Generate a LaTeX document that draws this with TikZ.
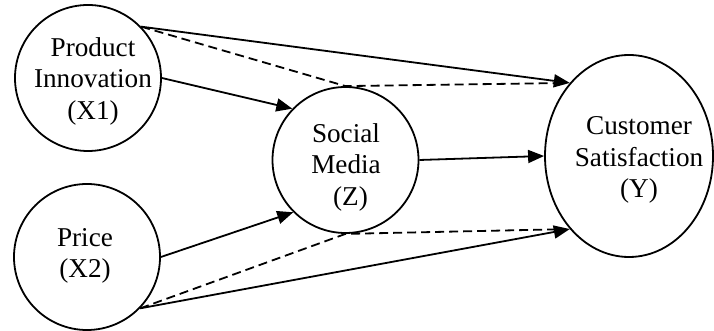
\documentclass[tikz,border=0pt]{standalone}
\usepackage{fontspec}
\setmainfont{Liberation Serif}
\usetikzlibrary{arrows.meta,shapes.geometric}

\tikzset{
  varshape/.style={draw=black, line width=1.8pt, inner sep=0pt, fill=none},
  varcircle/.style={varshape, circle, minimum size=146pt},
  varellipse/.style={varshape, ellipse, minimum width=168pt, minimum height=202pt},
  vartext/.style={align=center, inner sep=0pt, font=\fontsize{27.2}{31.5}\selectfont},
  effect/.style={line width=1.8pt, -{Triangle[length=16pt, width=13pt]}},
  indirect/.style={line width=1.8pt, dash pattern=on 9pt off 5pt, shorten >=7pt},
}

\begin{document}
\begin{tikzpicture}[x=1pt, y=1pt]
\useasboundingbox (0,0) rectangle (714,331);

% constructs
\node[varcircle]  (X1) at (88,253)    {};
\node[varcircle]  (X2) at (87,74)     {};
\node[varcircle]  (Z)  at (345.5,171) {};
\node[varellipse] (Y)  at (629,175)   {};

\node[vartext] (X1t) at (93,250)  {Product\\Innovation\\(X1)};
\node[vartext] (X2t) at (85,75)   {Price\\(X2)};
\node[vartext] (Zt)  at (346,164) {Social\\Media\\\hspace*{9pt}(Z)};
\node[vartext] (Yt)  at (639,171) {Customer\\Satisfaction\\(Y)};

% direct effects
\draw[effect] (X1.44)  -- (Y.129);
\draw[effect] (X1.east) -- (Z.136);
\draw[effect] (X2.east) -- (Z.225);
\draw[effect] (X2.-44) -- (Y.231);
\draw[effect] (Z.east) -- (Y.west);

% mediated paths through social media
\draw[indirect] (X1.44) -- (Z.north) -- (Y.129);
\draw[indirect] (X2.-44) -- (Z.south) -- (Y.231);
\end{tikzpicture}
\end{document}
